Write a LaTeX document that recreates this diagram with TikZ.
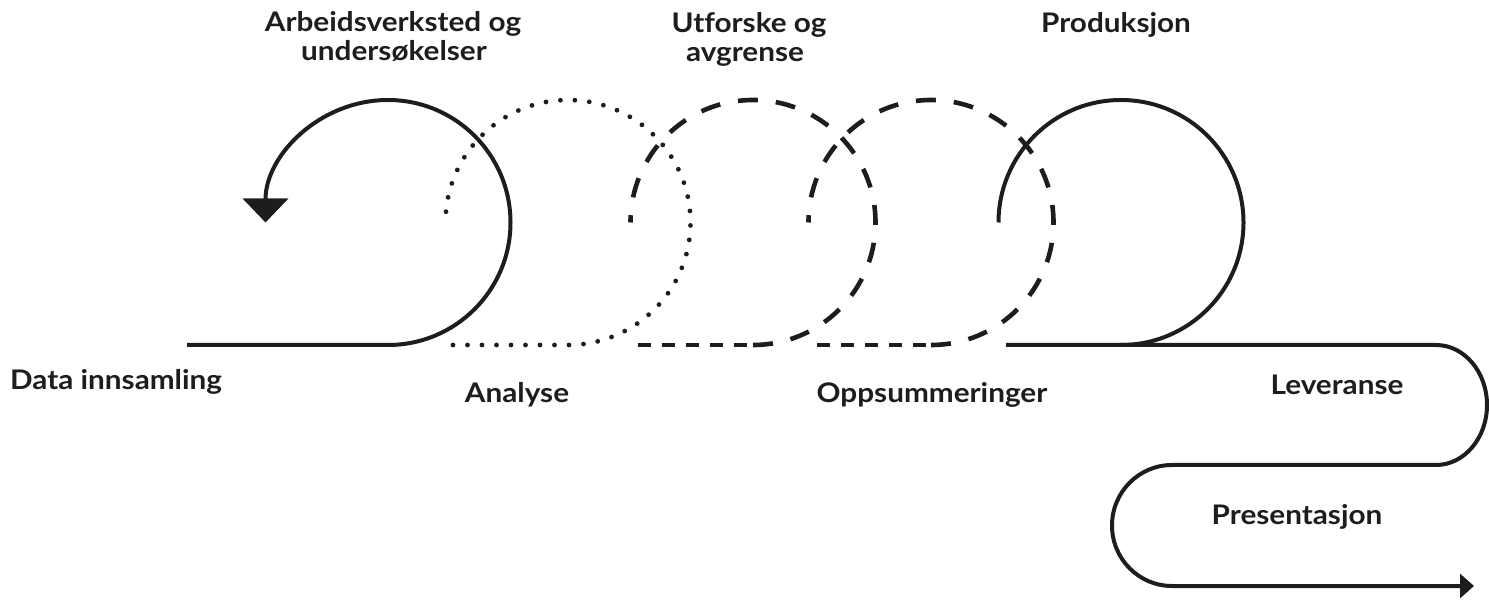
\documentclass[tikz,border=0pt]{standalone}
\usepackage{fontspec}
\setmainfont{Lato}[FakeStretch=1.1, Ligatures=NoCommon]
\usetikzlibrary{arrows.meta}
\definecolor{ink}{RGB}{30,28,29}
\begin{document}
\begin{tikzpicture}[x=1pt,y=1pt,
  lbl/.style={font=\fontsize{27}{29}\selectfont\bfseries, text=ink, inner sep=0pt, anchor=base},
  solidline/.style={draw=ink, line width=4pt},
  dotline/.style={draw=ink, line width=4.8pt, line cap=round, dash pattern=on 0pt off 14.5pt},
  dashline/.style={draw=ink, line width=4.6pt, dash pattern=on 13pt off 11pt},
  dasharc/.style={draw=ink, line width=4.6pt, dash pattern=on 20pt off 18pt},
  loop/.style={start angle=-90, end angle=180, radius=122.5}]
\useasboundingbox (0,0) rectangle (1489,600);

% loop 1 (solid, with arrow)
\coordinate (s1) at (187,255);
\coordinate (c1) at (388,255);
\draw[solidline, -{Triangle[length=24pt,width=45pt]}] (s1) -- (c1) arc[loop];

% loop 2 (dotted)
\coordinate (s2) at (453,255);
\coordinate (c2) at (568,255);
\draw[dotline] (s2) -- (c2) arc[loop];

% loop 3 (dashed)
\coordinate (s3) at (638,255);
\coordinate (c3) at (753,255);
\draw[dashline] (s3) -- (c3);
\draw[dasharc] (c3) arc[loop];

% loop 4 (dashed)
\coordinate (s4) at (817,255);
\coordinate (c4) at (931,255);
\draw[dashline] (s4) -- (c4);
\draw[dasharc] (c4) arc[loop];

% loop 5 (solid)
\coordinate (s5) at (1006,255);
\coordinate (c5) at (1121,255);
\draw[solidline] (c5) arc[loop];

% S-curve to the end
\coordinate (r1) at (1436,255);
\coordinate (r2) at (1172,135);
\coordinate (tip) at (1474,14);
\draw[solidline, -{Triangle[length=14pt,width=24pt]}]
  (s5) -- (r1) arc[start angle=90, end angle=-90, x radius=51, y radius=60]
  -- (r2) arc[start angle=90, end angle=270, x radius=60, y radius=60.5]
  -- (tip);

% labels
\node[lbl] (t1a) at (393,568) {Arbeidsverksted og};
\node[lbl] (t1b) at (394,539) {undersøkelser};
\node[lbl] (t2a) at (749,567) {Utforske og};
\node[lbl] (t2b) at (745,538) {avgrense};
\node[lbl] (t3) at (1116,567) {Produksjon};
\node[lbl, anchor=base west] (b1) at (10,210) {Data innsamling};
\node[lbl] (b2) at (517,197) {Analyse};
\node[lbl] (b3) at (932,197) {Oppsummeringer};
\node[lbl] (b4) at (1337,205) {Leveranse};
\node[lbl] (b5) at (1297,75) {Presentasjon};
\end{tikzpicture}
\end{document}
